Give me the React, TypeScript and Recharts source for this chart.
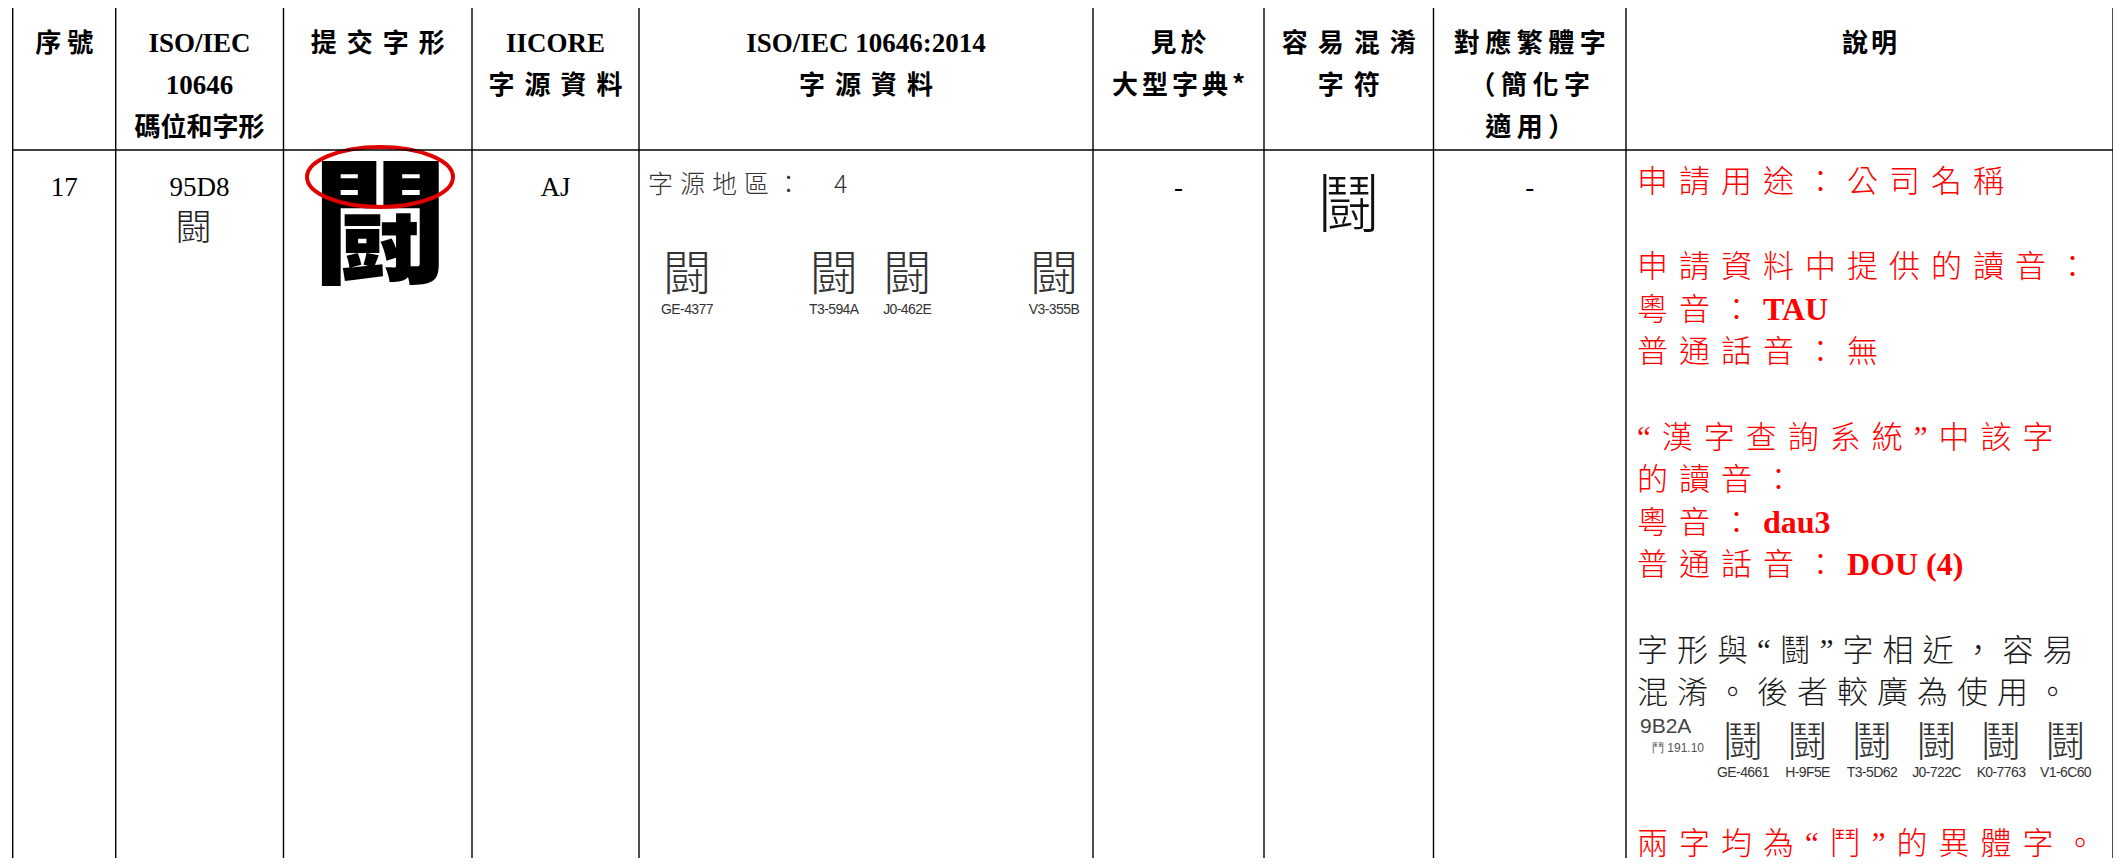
import React from 'react';
import { ComposedChart, XAxis, YAxis, ReferenceLine, Customized } from 'recharts';

// header row, one entry per column, one string per line
const headerTitles = [
  ['序號'],
  ['ISO/IEC', '10646', '碼位和字形'],
  ['提交字形'],
  ['IICORE', '字源資料'],
  ['ISO/IEC 10646:2014', '字源資料'],
  ['見於', '大型字典*'],
  ['容易混淆', '字符'],
  ['對應繁體字', '（簡化字', '適用）'],
  ['說明'],
];

// body row values
const serialNo = '17';
const codePoint = '95D8';
const codeChar = '闘';
const submittedGlyph = '闘';
const iicoreSource = 'AJ';
const sourceRegionLabel = '字源地區：';
const sourceRegionCount = '4';
const sourceGlyphLabels = ['GE-4377', '', 'T3-594A', 'J0-462E', '', 'V3-355B'];
const seenInDictionary = '-';
const confusableChar = '鬪';
const traditionalChar = '-';

// comparison block in the notes column
const compareCode = '9B2A';
const compareRadical = '鬥 191.10';
const compareGlyphLabels = ['GE-4661', 'H-9F5E', 'T3-5D62', 'J0-722C', 'K0-7763', 'V1-6C60'];

type Seg = { t: string; bold?: boolean };
type NoteLine = { color: string; segs: Seg[] };

const notesTop: (NoteLine | null)[] = [
  { color: 'red', segs: [{ t: '申請用途：公司名稱' }] },
  null,
  { color: 'red', segs: [{ t: '申請資料中提供的讀音：' }] },
  { color: 'red', segs: [{ t: '粵音：' }, { t: 'TAU', bold: true }] },
  { color: 'red', segs: [{ t: '普通話音：無' }] },
  null,
  { color: 'red', segs: [{ t: '“漢字查詢系統”中該字' }] },
  { color: 'red', segs: [{ t: '的讀音：' }] },
  { color: 'red', segs: [{ t: '粵音：' }, { t: 'dau3', bold: true }] },
  { color: 'red', segs: [{ t: '普通話音：' }, { t: 'DOU (4)', bold: true }] },
  null,
  { color: 'black', segs: [{ t: '字形與“鬪”字相近，容易' }] },
  { color: 'black', segs: [{ t: '混淆。後者較廣為使用。' }] },
];
const notesBottom: NoteLine[] = [
  { color: 'red', segs: [{ t: '兩字均為“鬥”的異體字。' }] },
];

const W = 2121;
const H = 866;
const colEdges = [12.7, 115.7, 283.5, 472, 639, 1093, 1264, 1433.5, 1626, 2113];
const TOP = 6;
const HEAD = 150;

const CJK = "'Noto Sans CJK TC', sans-serif";
const SERIF = "'Liberation Serif', 'Noto Sans CJK TC', serif";
const SANS = "'Liberation Sans', Arial, sans-serif";
const NARROW = "'Liberation Sans Narrow', 'Liberation Sans', Arial, sans-serif";

const isCjk = (s: string) => /[\u3000-\u9fff\uff00-\uffef]/.test(s);
const mid = (i: number) => (colEdges[i] + colEdges[i + 1]) / 2;

const headerSpacing = [6, 0, 10, 10, 10, 4, 10, 5.5, 3];

// plain serif cell text in the body row
const bodyCells: [number, string][] = [
  [0, serialNo],
  [1, codePoint],
  [3, iicoreSource],
  [5, seenInDictionary],
  [7, traditionalChar],
];

function TableText() {
  const noteX = 1637;
  const noteLH = 42.6;
  const noteY0 = 192;
  const renderNote = (line: NoteLine, y: number, key: string) => (
    <text key={key} x={noteX} y={y} fill={line.color === 'red' ? '#ff0000' : '#1a1a1a'}
      fontFamily={SERIF} fontSize={31} fontWeight={300} style={{ letterSpacing: line.color === 'red' ? 11 : 9 }}>
      {line.segs.map((s, k) => (
        <tspan key={k} fontWeight={s.bold ? 700 : 300} fontSize={s.bold ? 32 : 31}
          style={s.bold ? { letterSpacing: 0 } : undefined}>
          {s.t}
        </tspan>
      ))}
    </text>
  );

  return (
    <g>
      {/* header */}
      {headerTitles.map((lines, i) =>
        lines.map((ln, j) => {
          const cjk = isCjk(ln);
          const sp = cjk ? headerSpacing[i] : 0;
          return (
            <text key={`h${i}-${j}`} x={mid(i) + sp / 2} y={51.5 + j * 42} textAnchor="middle"
              fontFamily={cjk ? CJK : SERIF} fontWeight={700} fontSize={cjk ? 26 : 27}
              fill="#000" style={{ letterSpacing: sp }}>
              {ln}
            </text>
          );
        })
      )}

      {/* body row */}
      {bodyCells.map(([col, val]) => (
        <text key={`b${col}`} x={mid(col)} y={196} textAnchor="middle" fontFamily={SERIF} fontSize={27} fill="#000">{val}</text>
      ))}
      <text x={mid(1) - 6} y={240} textAnchor="middle" fontFamily={CJK} fontWeight={300} fontSize={36} fill="#222">{codeChar}</text>

      <text x={380} y={273} textAnchor="middle" fontFamily={CJK} fontWeight={900} fontSize={136} fill="#000">{submittedGlyph}</text>
      <ellipse cx={380} cy={177} rx={73} ry={30} fill="none" stroke="#e00000" strokeWidth={4} />

      <text x={648} y={193} fontFamily={CJK} fontWeight={300} fontSize={25} fill="#333" style={{ letterSpacing: 7 }}>
        {sourceRegionLabel}
        <tspan dx={26}>{sourceRegionCount}</tspan>
      </text>
      {sourceGlyphLabels.map((lab, i) =>
        lab ? (
          <g key={lab}>
            <text x={687 + i * 73.4} y={290} textAnchor="middle" fontFamily={CJK} fontWeight={300} fontSize={48} fill="#333">{codeChar}</text>
            <text x={687 + i * 73.4} y={314} textAnchor="middle" fontFamily={NARROW} fontSize={14} fill="#333" style={{ letterSpacing: -0.6 }}>{lab}</text>
          </g>
        ) : null
      )}

      <text x={mid(6)} y={227} textAnchor="middle" fontFamily={CJK} fontWeight={300} fontSize={64} fill="#111">{confusableChar}</text>

      {/* notes column */}
      {notesTop.map((line, i) => (line ? renderNote(line, noteY0 + i * noteLH, `n${i}`) : null))}

      <text x={1640} y={733} fontFamily={SANS} fontSize={21} fill="#444">{compareCode}</text>
      <text x={1652} y={752} fontFamily={SANS} fontSize={12} fill="#555">{compareRadical}</text>
      {compareGlyphLabels.map((lab, i) => (
        <g key={lab}>
          <text x={1743 + i * 64.5} y={756} textAnchor="middle" fontFamily={CJK} fontWeight={300} fontSize={41} fill="#333">{confusableChar}</text>
          <text x={1743 + i * 64.5} y={777} textAnchor="middle" fontFamily={NARROW} fontSize={14} fill="#333" style={{ letterSpacing: -0.6 }}>{lab}</text>
        </g>
      ))}

      {notesBottom.map((line, i) => renderNote(line, 854 + i * noteLH, `e${i}`))}
    </g>
  );
}

export default function App() {
  return (
    <div style={{ margin: -8, width: W, height: H, overflow: 'hidden', background: '#fff' }}>
      <ComposedChart width={W} height={H} data={[]} margin={{ top: 0, right: 0, bottom: 0, left: 0 }}>
        <XAxis type="number" dataKey="x" domain={[0, W]} hide allowDataOverflow />
        <YAxis type="number" dataKey="y" domain={[0, H]} reversed hide allowDataOverflow />
        {colEdges.map((x) => (
          <ReferenceLine key={`v${x}`} segment={[{ x, y: TOP }, { x, y: H }]} stroke="#000" strokeWidth={1.4} ifOverflow="visible" />
        ))}
        <ReferenceLine segment={[{ x: colEdges[0], y: TOP }, { x: colEdges[9], y: TOP }]} stroke="#000" strokeWidth={1.4} ifOverflow="visible" />
        <ReferenceLine segment={[{ x: colEdges[0], y: HEAD }, { x: colEdges[9], y: HEAD }]} stroke="#000" strokeWidth={1.4} ifOverflow="visible" />
        <Customized component={TableText} />
      </ComposedChart>
    </div>
  );
}
